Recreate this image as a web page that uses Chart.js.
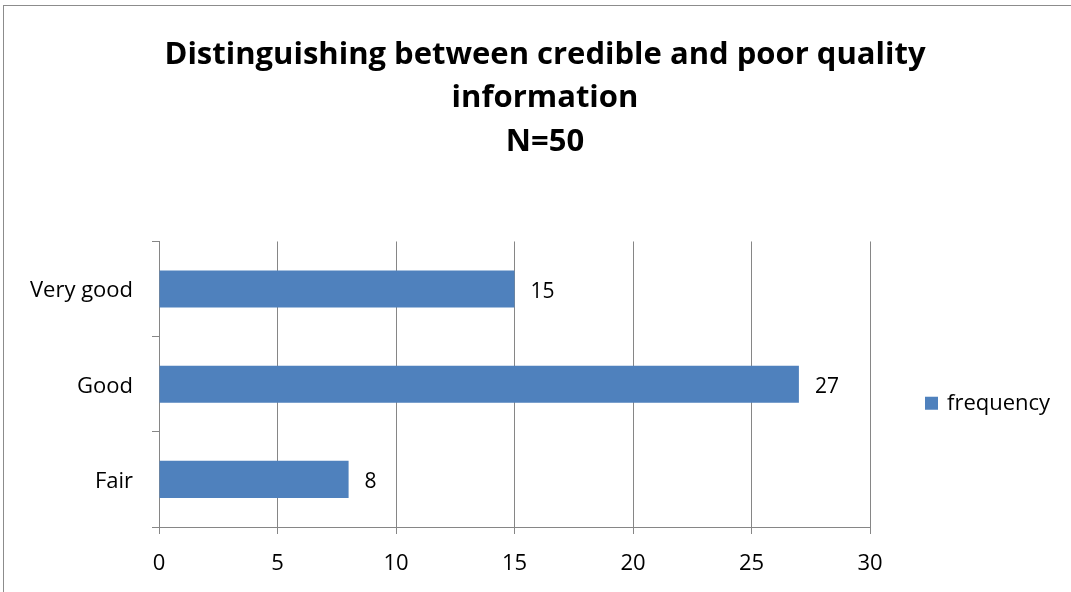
<!DOCTYPE html>
<html>
<head>
<meta charset="utf-8">
<script src="https://cdn.jsdelivr.net/npm/chart.js@4.4.1/dist/chart.umd.min.js"></script>
<style>
  html, body { margin: 0; padding: 0; background: #fff; overflow: hidden; }
  #frame { position: absolute; left: 3px; top: 5px; width: 1200px; height: 700px; border: 1px solid #8c8c8c; }
  #chart { position: absolute; left: 0; top: 0; }
</style>
</head>
<body>
<div id="frame"></div>
<canvas id="chart" width="1071" height="592"></canvas>
<script>
// Data
const categories = ['Very good', 'Good', 'Fair'];
const frequency = [15, 27, 8];
const seriesName = 'frequency';
const titleLines = ['Distinguishing between credible and poor quality', 'information', 'N=50'];

const fontFamily = '"Open Sans", sans-serif';
const gridColor = '#868686';
const barColor = '#4F81BD';

// Draw value labels at the end of each bar
const valueLabels = {
    id: 'valueLabels',
    afterDatasetsDraw(chart) {
        const ctx = chart.ctx;
        ctx.save();
        ctx.font = '21px ' + fontFamily;
        ctx.fillStyle = '#000';
        ctx.textAlign = 'left';
        ctx.textBaseline = 'middle';
        chart.getDatasetMeta(0).data.forEach((bar, i) => {
            ctx.fillText(frequency[i], bar.x + 16, bar.y + 3);
        });
        ctx.restore();
    }
};

// Legend drawn to the right of the plot, a little below its middle
const sideLegend = {
    id: 'sideLegend',
    afterDraw(chart) {
        const ctx = chart.ctx;
        const area = chart.chartArea;
        const ds = chart.data.datasets[0];
        const x = area.right + 55;
        const y = (area.top + area.bottom) / 2 + 19;
        ctx.save();
        ctx.fillStyle = ds.backgroundColor;
        ctx.fillRect(x, y - 6.5, 13, 13);
        ctx.font = '22px ' + fontFamily;
        ctx.fillStyle = '#000';
        ctx.textAlign = 'left';
        ctx.textBaseline = 'middle';
        ctx.fillText(ds.label, x + 22, y);
        ctx.restore();
    }
};

const ctx = document.getElementById('chart').getContext('2d');
const chart = new Chart(ctx, {
    type: 'bar',
    data: {
        labels: categories,
        datasets: [{
            label: seriesName,
            data: frequency,
            backgroundColor: barColor,
            borderWidth: 0,
            barPercentage: 0.39,
            categoryPercentage: 1
        }]
    },
    options: {
        indexAxis: 'y',
        responsive: false,
        animation: false,
        layout: {
            padding: { left: 19, right: 0, top: 0, bottom: 0 }
        },
        plugins: {
            title: {
                display: true,
                text: titleLines,
                color: '#000',
                font: { family: fontFamily, size: 31, weight: 'bold', lineHeight: 1.403 },
                padding: { top: 33, bottom: 78 }
            },
            legend: { display: false },
            tooltip: { enabled: false }
        },
        scales: {
            x: {
                min: 0,
                max: 30,
                ticks: {
                    stepSize: 5,
                    color: '#000',
                    padding: 17,
                    font: { family: fontFamily, size: 22 }
                },
                grid: { color: gridColor, tickLength: 7 },
                border: { color: gridColor },
                afterFit(scale) { scale.height = 65; }
            },
            y: {
                ticks: {
                    color: '#000',
                    padding: 19,
                    labelOffset: 2,
                    font: { family: fontFamily, size: 22 }
                },
                grid: { drawOnChartArea: false, color: gridColor, tickLength: 7, offset: true },
                border: { color: gridColor },
                afterFit(scale) { scale.width = 140; }
            },
            // empty axis that only reserves room for the legend on the right
            legendRoom: {
                type: 'linear',
                position: 'right',
                ticks: { display: false },
                grid: { display: false },
                border: { display: false },
                afterFit(scale) { scale.width = 201; }
            }
        }
    },
    plugins: [valueLabels, sideLegend]
});
</script>
</body>
</html>
